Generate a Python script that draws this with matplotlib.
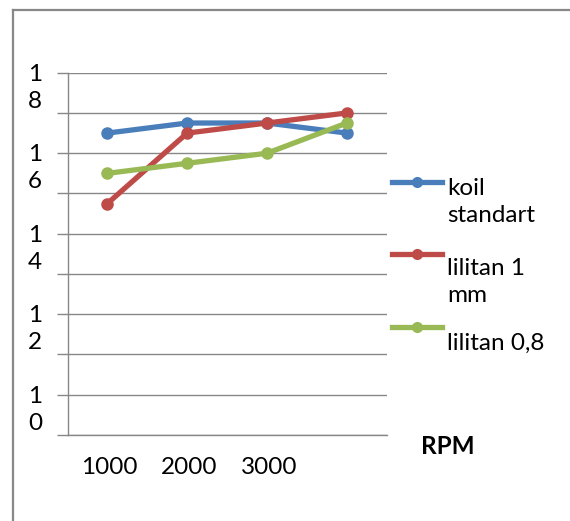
import matplotlib
matplotlib.use("Agg")
import matplotlib.pyplot as plt
from matplotlib.lines import Line2D
import matplotlib.transforms as mtransforms

plt.rcParams['font.family'] = ['Lato', 'DejaVu Sans']

rpm = ['1000', '2000', '3000', '']
koil_standart = [16.5, 16.75, 16.75, 16.5]
lilitan_1mm = [14.75, 16.5, 16.75, 17.0]
lilitan_08 = [15.5, 15.75, 16.0, 16.75]

names = ['koil\nstandart', 'lilitan 1\nmm', 'lilitan 0,8']
colors = ['#4A7EBB', '#BE4B48', '#98B954']
series = [koil_standart, lilitan_1mm, lilitan_08]

yticks = list(range(9, 19))
ylabels = ['1\n' + str(v)[1] if v >= 10 and v % 2 == 0 else '' for v in yticks]

W, H = 570, 521
fs = 17.5
fig = plt.figure(figsize=(W / 100, H / 100), dpi=100)
ax = fig.add_axes([67.5 / W, 1 - 435 / H, (386.7 - 67.5) / W, (435 - 72.7) / H])

x = range(len(rpm))
for vals, c, n in zip(series, colors, names):
    ax.plot(x, vals, color=c, lw=3.8, marker='o', markersize=8,
            solid_capstyle='round', label=n, zorder=3)

ax.set_xlim(-0.5, 3.5)
ax.set_ylim(9, 18)
ax.set_xticks(list(x))
ax.set_xticklabels(rpm, fontsize=fs)
ax.set_yticks(yticks)
ax.set_yticklabels(ylabels, fontsize=fs, linespacing=1.35)
ax.tick_params(axis='x', length=0, pad=16)
ax.tick_params(axis='y', length=8, width=1, color='#878787', pad=14)

# labels sit a bit lower in the original
off = mtransforms.ScaledTranslation(-2 / 100, -10 / 100, fig.dpi_scale_trans)
for lab in ax.get_yticklabels():
    lab.set_transform(lab.get_transform() + off)
    lab.set_horizontalalignment('center')
off_x = mtransforms.ScaledTranslation(2 / 100, 0, fig.dpi_scale_trans)
for lab in ax.get_xticklabels():
    lab.set_transform(lab.get_transform() + off_x)

ax.grid(axis='y', color='#878787', lw=1)
for s in ['top', 'right']:
    ax.spines[s].set_visible(False)
for s in ['left', 'bottom']:
    ax.spines[s].set_color('#878787')
    ax.spines[s].set_linewidth(1)
ax.set_axisbelow(True)

fig.text(448 / W, 1 - 447 / H, 'RPM', fontsize=fs, fontweight='bold',
         ha='center', va='center')

# legend, Excel style
handle_y = [181.7, 254, 327]
text_y = [202, 282, 343]
for n, c, hy, ty in zip(names, colors, handle_y, text_y):
    fig.add_artist(Line2D([392 / W, 442 / W], [1 - hy / H, 1 - hy / H],
                          transform=fig.transFigure, color=c, lw=3.8))
    fig.add_artist(Line2D([417 / W], [1 - hy / H], transform=fig.transFigure,
                          color=c, marker='o', markersize=7))
    fig.text(447 / W, 1 - ty / H, n, fontsize=fs, ha='left', va='center',
             linespacing=1.3)

# chart border
fig.add_artist(Line2D([13 / W, 1], [1 - 10 / H, 1 - 10 / H],
                      transform=fig.transFigure, color='#888888', lw=1.6))
fig.add_artist(Line2D([13 / W, 13 / W], [0, 1 - 10 / H],
                      transform=fig.transFigure, color='#888888', lw=1.6))

fig.savefig('out.png', dpi=100)
